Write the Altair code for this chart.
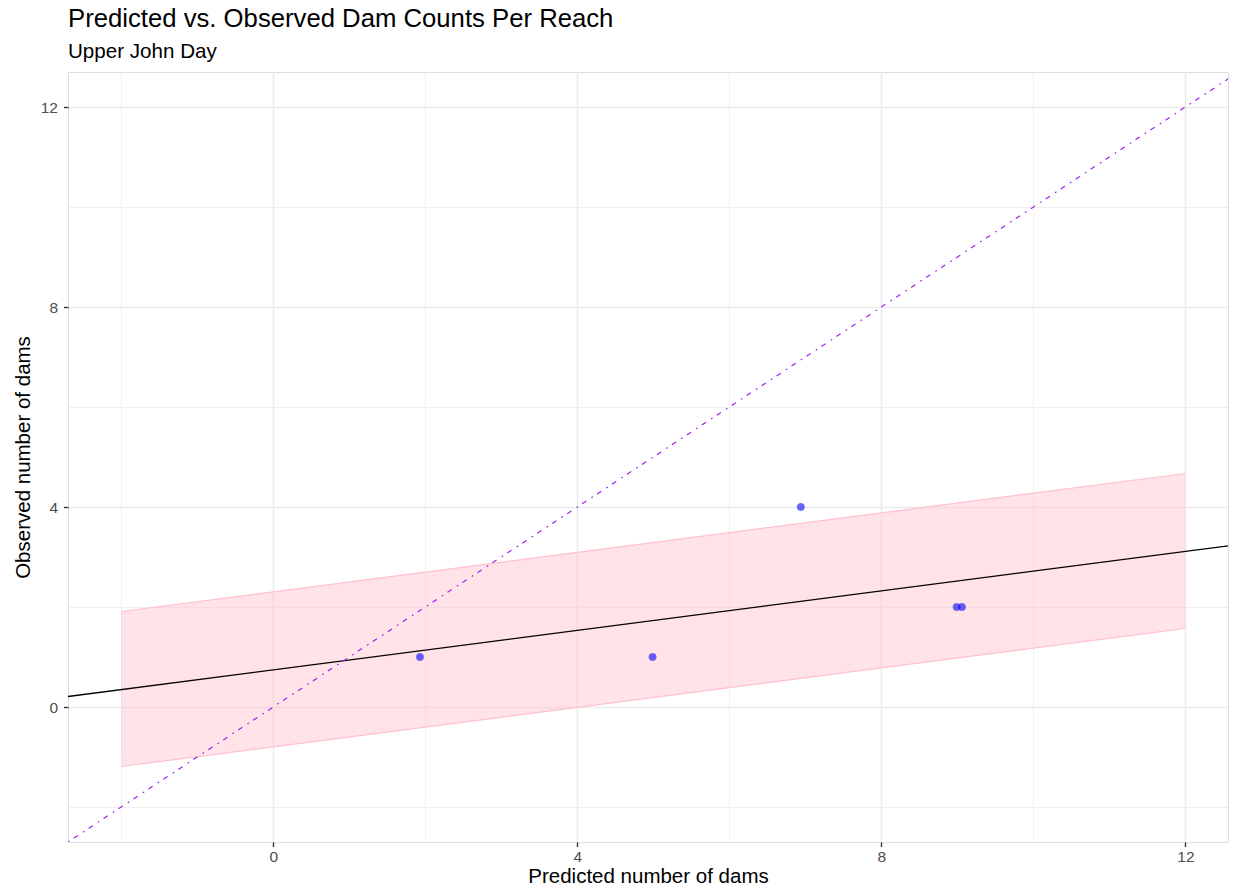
import altair as alt
import pandas as pd

# observed points
pred_x = [1.93, 4.99, 6.94, 8.99, 9.06]
obs_y = [1, 1, 4, 2, 2]

# fitted regression line (read at panel edges)
fit_x = [-2.7, 12.7]
fit_y = [0.21, 3.25]

# prediction ribbon
rib_x = [-2, 12]
rib_lo = [-1.19, 1.57]
rib_hi = [1.91, 4.67]

# 1:1 reference line
ref_v = [-2.7, 12.7]

tick_vals = [-2, 0, 2, 4, 6, 8, 10, 12]
x_dom = [-2.7, 12.56]
y_dom = [-2.7, 12.7]

FONT = "Liberation Sans"

pts = pd.DataFrame({"x": pred_x, "y": obs_y})
fit = pd.DataFrame({"x": fit_x, "y": fit_y})
rib = pd.DataFrame({"x": rib_x, "lo": rib_lo, "hi": rib_hi})
ref = pd.DataFrame({"x": ref_v, "y": ref_v})

major = "datum.value % 4 == 0"

def mk_axis(title, pad, tpad):
    return alt.Axis(
        title=title,
        values=tick_vals,
        format="d",
        labelExpr=f"{major} ? datum.label : ''",
        grid=True,
        gridColor="#EBEBEB",
        gridWidth={"condition": {"test": major, "value": 1.5}, "value": 0.8},
        domain=False,
        ticks=True,
        tickColor="#333333",
        tickWidth=1.4,
        tickSize=4.5,
        tickOpacity={"condition": {"test": major, "value": 1}, "value": 0},
        labelFont=FONT,
        labelFontSize=15.5,
        labelColor="#4D4D4D",
        labelPadding=pad,
        titleFont=FONT,
        titleFontSize=20.5,
        titleFontWeight="normal",
        titleColor="black",
        titlePadding=tpad,
        labelFlush=False,
        labelOverlap=False,
    )

xs = alt.Scale(domain=x_dom, nice=False, zero=False)
ys = alt.Scale(domain=y_dom, nice=False, zero=False)

ribbon = alt.Chart(rib).mark_area(color="#FFC0CB", opacity=0.45).encode(
    x=alt.X("x:Q", scale=xs, axis=mk_axis("Predicted number of dams", 3, 1)),
    y=alt.Y("hi:Q", scale=ys, axis=mk_axis("Observed number of dams", 6, 7)),
    y2="lo:Q",
)
rib_hi_line = alt.Chart(rib).mark_line(color="#FFC0CB", strokeWidth=1.2).encode(
    x="x:Q", y="hi:Q"
)
rib_lo_line = alt.Chart(rib).mark_line(color="#FFC0CB", strokeWidth=1.2).encode(
    x="x:Q", y="lo:Q"
)
fit_line = alt.Chart(fit).mark_line(color="black", strokeWidth=1.3, clip=True).encode(
    x="x:Q", y="y:Q"
)
ref_line = alt.Chart(ref).mark_line(
    color="#A020F0", strokeWidth=1.2, strokeDash=[1.7, 5.1, 5.0, 6.1], clip=True
).encode(x="x:Q", y="y:Q")
points = alt.Chart(pts).mark_circle(
    color="blue", opacity=0.6, size=55, stroke="#2020E0", strokeWidth=0.6
).encode(x="x:Q", y="y:Q")

chart = (
    alt.layer(ribbon, rib_hi_line, rib_lo_line, fit_line, ref_line, points)
    .properties(
        width=1160,
        height=770,
        autosize=alt.AutoSizeParams(type="none"),
        padding={"left": 60, "top": 64, "right": 2, "bottom": 46},
        title=alt.TitleParams(
            text="Predicted vs. Observed Dam Counts Per Reach",
            subtitle="Upper John Day",
            anchor="start",
            frame="group",
            font=FONT,
            fontSize=25.7,
            fontWeight="normal",
            color="black",
            subtitleFont=FONT,
            subtitleFontSize=20.6,
            subtitleColor="black",
            subtitlePadding=10,
            offset=8,
        ),
    )
    .configure_view(stroke="#4D4D4D", strokeWidth=1.6)
    .configure(background="white")
)

chart.save("out.html", embed_options={"renderer": "svg", "actions": False})
